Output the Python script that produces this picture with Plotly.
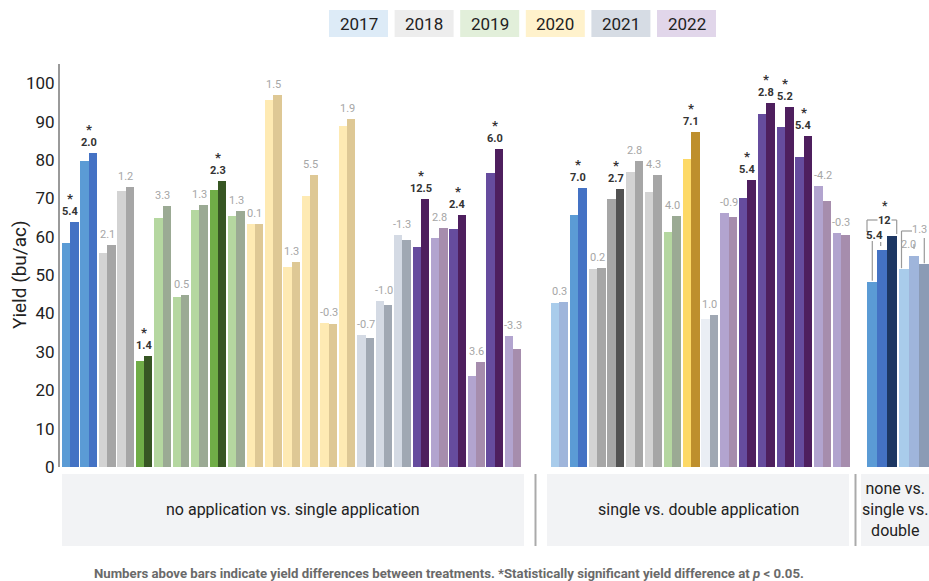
import plotly.graph_objects as go

# ---------------- data ----------------
years = ["2017", "2018", "2019", "2020", "2021", "2022"]

# no application vs. single application (pairs)
g1_none = [58.4, 79.8, 55.7, 71.9, 27.6, 64.8, 44.3, 66.9, 72.1, 65.4, 63.3, 95.5, 52.0,
           70.6, 37.5, 88.8, 34.4, 43.2, 60.4, 57.3, 59.6, 61.9, 23.7, 76.5, 34.1]
g1_single = [63.8, 81.8, 57.8, 72.9, 28.9, 68.0, 44.8, 68.2, 74.5, 66.6, 63.4, 97.0, 53.3,
             76.0, 37.2, 90.6, 33.6, 42.2, 59.1, 69.8, 62.2, 65.6, 27.3, 82.8, 30.7]
g1_diff = ["5.4", "2.0", "2.1", "1.2", "1.4", "3.3", "0.5", "1.3", "2.3", "1.3", "0.1", "1.5", "1.3",
           "5.5", "-0.3", "1.9", "-0.7", "-1.0", "-1.3", "12.5", "2.8", "2.4", "3.6", "6.0", "-3.3"]
g1_sig = [1, 1, 0, 0, 1, 0, 0, 0, 1, 0, 0, 0, 0, 0, 0, 0, 0, 0, 0, 1, 0, 1, 0, 1, 0]

# single vs. double application (pairs)
g2_single = [42.7, 65.6, 51.6, 69.8, 76.8, 71.6, 61.2, 80.2, 38.5, 66.1, 70.0, 92.1, 88.5, 80.7, 73.2, 60.9]
g2_double = [43.0, 72.6, 51.8, 72.5, 79.7, 76.0, 65.3, 87.2, 39.6, 65.1, 74.7, 94.8, 93.7, 86.2, 69.3, 60.4]
g2_diff = ["0.3", "7.0", "0.2", "2.7", "2.8", "4.3", "4.0", "7.1", "1.0", "-0.9", "5.4", "2.8", "5.2", "5.4", "-4.2", "-0.3"]
g2_sig = [0, 1, 0, 1, 0, 0, 0, 1, 0, 0, 1, 1, 1, 1, 0, 0]

# none vs. single vs. double (triples)
g3_vals = [[48.2, 56.5, 60.2], [51.5, 55.0, 52.8]]
g3_labels = [["5.4", "12"], ["2.0", "1.3"]]

group_names = ["no application vs. single application", "single vs. double application",
               "none vs.<br>single vs.<br>double"]
footnote = ("Numbers above bars indicate yield differences between treatments. "
            "*Statistically significant yield difference at <i>p</i> &lt; 0.05.")
y_title = "Yield (bu/ac)"

# ---------------- styles ----------------
BLUE = ("#5B9BD5", "#4472C4")
LBLUE = ("#A9CCEB", "#9FB5DB")
GRAY = ("#D3D3D3", "#A6A6A6")
DGRAY = ("#A6A6A6", "#525252")
GREEN = ("#70AD47", "#375623")
LGREEN = ("#B5D7A0", "#9BAA94")
YEL = ("#FEEAB3", "#DEC895")
GOLD = ("#FDD966", "#BE8F2D")
SLATE = ("#D4DAE4", "#A0A8B3")
VSLATE = ("#EAEEF4", "#A0A8B3")
PURP = ("#664C9E", "#4E1F5E")
LAV = ("#B2A4CF", "#A68DAD")

g1_colors = [BLUE, BLUE, GRAY, GRAY, GREEN, LGREEN, LGREEN, LGREEN, GREEN, LGREEN,
             YEL, YEL, YEL, YEL, YEL, YEL, SLATE, SLATE, SLATE, PURP, LAV, PURP, LAV, PURP, LAV]
g2_colors = [LBLUE, BLUE, GRAY, DGRAY, GRAY, GRAY, LGREEN, GOLD, VSLATE, LAV,
             PURP, PURP, PURP, PURP, LAV, LAV]
g3_colors = [("#5B9BD5", "#4472C4", "#1D3763"), ("#A9CCEB", "#9FB5DB", "#8B9BB5")]
legend_colors = ["#DDEBF7", "#EDEDED", "#E2EFDA", "#FFF2CC", "#D6DCE4", "#E1D6EA"]

FONT = "Roboto, Liberation Sans, sans-serif"
LBL_GRAY = "#A6A6A6"
DARK = "#333333"
TXT = "#222222"

# ---------------- layout geometry (pixel-like x units) ----------------
W, H = 929, 581
ML, MT, MB = 60, 64, 114
YMAX = 105
PLOT_H = H - MT - MB


def py2paper(py):
    return (H - MB - py) / PLOT_H


def px2paper(px):
    return (px - ML) / (W - ML)


def py2y(py):
    return (H - MB - py) / PLOT_H * YMAX


xs, ys, cols, wids = [], [], [], []
annos = []


def txt(x, y, text, size, color, xref="x", yref="y", **kw):
    d = dict(x=x, y=y, xref=xref, yref=yref, text=text, showarrow=False,
             xanchor="center", yanchor="middle", font=dict(family=FONT, size=size, color=color))
    d.update(kw)
    annos.append(d)


def add_pairs(start, pitch, bw, a_vals, b_vals, colors, diffs, sigs):
    for i, (a, b) in enumerate(zip(a_vals, b_vals)):
        x0 = start + i * pitch
        for j, v in enumerate((a, b)):
            xs.append(x0 + bw * j + bw / 2)
            ys.append(v)
            cols.append(colors[i][j])
            wids.append(bw)
        cx = x0 + bw
        top = max(a, b)
        sig = sigs[i]
        txt(cx, top, ("<b>%s</b>" % diffs[i]) if sig else diffs[i], 11,
            DARK if sig else LBL_GRAY, yanchor="bottom", yshift=2)
        if sig:
            txt(cx, top, "<b>*</b>", 13, DARK, yanchor="bottom", yshift=14)


add_pairs(62, 18.45, 8.3, g1_none, g1_single, g1_colors, g1_diff, g1_sig)
add_pairs(551, 18.8, 8.45, g2_single, g2_double, g2_colors, g2_diff, g2_sig)

# triples
t_start, t_pitch, t_bw = 867, 32, 10
t_centers = []
for i, trip in enumerate(g3_vals):
    cs = []
    for j, v in enumerate(trip):
        cx = t_start + i * t_pitch + t_bw * j + t_bw / 2
        xs.append(cx)
        ys.append(v)
        cols.append(g3_colors[i][j])
        wids.append(t_bw)
        cs.append(cx)
    t_centers.append(cs)

fig = go.Figure()
fig.add_trace(go.Bar(x=xs, y=ys, width=wids, marker=dict(color=cols, line=dict(width=0)),
                     showlegend=False, hoverinfo="y"))

shapes = []
LINE = dict(color="#9A9A9A", width=1.2)


def seg(x0, y0, x1, y1):
    shapes.append(dict(type="line", xref="x", yref="y", x0=x0, y0=y0, x1=x1, y1=y1, line=LINE))


# bracket triple 1
a, b, c = t_centers[0]
va, vb, vc = g3_vals[0]
seg(a - 5, py2y(220), a - 5, py2y(232))
seg(a - 5, py2y(220), a + 5.5, py2y(220))
seg(c - 0.5, py2y(220), c + 4.7, py2y(220))
seg(c + 4.7, py2y(220), c + 4.7, vc + 0.5)
seg(a + 0.3, py2y(241), a + 0.3, va + 0.3)
seg(b - 1.3, py2y(242), b - 1.3, py2y(246))
txt((a + c) / 2 + 2.5, py2y(220.5), "<b>%s</b>" % g3_labels[0][1], 11, DARK)
txt((a + c) / 2 + 2.5, py2y(205.5), "<b>*</b>", 12, DARK)
txt(a + 2, py2y(234.5), "<b>%s</b>" % g3_labels[0][0], 11.5, DARK)

# bracket triple 2
a, b, c = t_centers[1]
va, vb, vc = g3_vals[1]
seg(a - 2.5, py2y(231), a - 2.5, va + 0.3)
seg(a - 2.5, py2y(231), a + 8, py2y(231))
seg(c + 0.3, py2y(238), c + 0.3, vc + 0.3)
seg(b, py2y(244), b, py2y(249))
txt(929, py2y(229), g3_labels[1][1], 11, LBL_GRAY, xanchor="right")
txt(a + 4.5, py2y(244), g3_labels[1][0], 11, LBL_GRAY)

# bottom group boxes
boxes = [(62, 524), (547, 849), (861, 929)]
box_sizes = [16, 16, 16]
for (x0, x1), name, fs in zip(boxes, group_names, box_sizes):
    shapes.append(dict(type="rect", xref="x", yref="paper", x0=x0, x1=x1, y0=py2paper(546), y1=py2paper(474),
                       fillcolor="#F2F3F5", line=dict(width=0), layer="below"))
    txt((x0 + x1) / 2, py2paper(509), name, fs, TXT, yref="paper")
for sx in (535.5, 855.5):
    shapes.append(dict(type="line", xref="x", yref="paper", x0=sx, x1=sx, y0=py2paper(546), y1=py2paper(474),
                       line=dict(color="#AAAAAA", width=2)))

# legend boxes
for i, (yr, lc) in enumerate(zip(years, legend_colors)):
    x0 = 329 + i * 65.6
    shapes.append(dict(type="rect", xref="x", yref="paper", x0=x0, x1=x0 + 59, y0=py2paper(37), y1=py2paper(10),
                       fillcolor=lc, line=dict(width=0)))
    txt(x0 + 29.5, py2paper(23.5), yr, 17, TXT, yref="paper")

# y-axis title
txt(px2paper(19), py2paper(275), y_title, 19, TXT, xref="paper", yref="paper", textangle=-90)
# footnote
txt(px2paper(449), py2paper(573), "<b>%s</b>" % footnote, 13.2, "#6A6A6A", xref="paper", yref="paper")

fig.update_layout(
    width=W, height=H, margin=dict(l=ML, r=0, t=MT, b=MB),
    paper_bgcolor="white", plot_bgcolor="white",
    shapes=shapes, annotations=annos, bargap=0,
    font=dict(family=FONT, color=TXT),
    xaxis=dict(range=[ML, W], showgrid=False, zeroline=False, showticklabels=False, showline=False, fixedrange=True),
    yaxis=dict(range=[0, YMAX], tickvals=list(range(0, 101, 10)), showgrid=False, zeroline=False,
               showline=True, linecolor="#9A9A9A", linewidth=2, ticks="", ticklen=0,
               tickfont=dict(family=FONT, size=17, color=TXT), fixedrange=True),
)

fig.write_html("out.html")
